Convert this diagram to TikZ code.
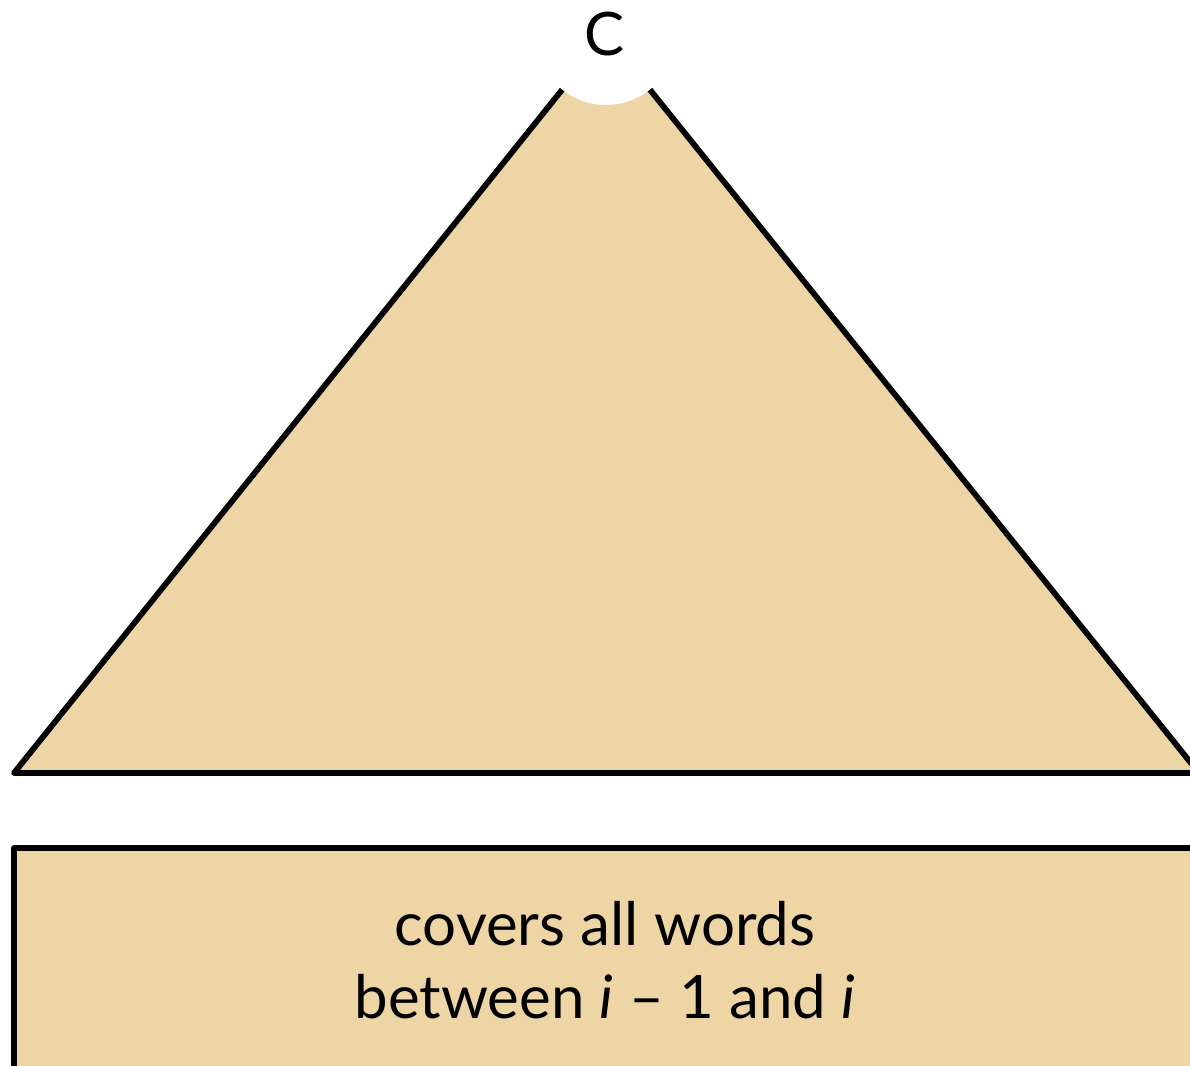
\documentclass[tikz,border=0pt]{standalone}
\usepackage{fontspec}
\setmainfont{Lato}
\definecolor{tan}{HTML}{EDD5A5}
\begin{document}
\begin{tikzpicture}[x=0.5pt,y=-0.5pt,
  shape fill/.style={fill=tan,draw=black,line width=2.9pt,line join=round},
  label txt/.style={font=\fontsize{30}{36.5}\selectfont,align=center}]
\useasboundingbox (0,0) rectangle (1190,1066);
\coordinate (L) at (14,773);
\coordinate (R) at (1199,773);
\coordinate (A) at (606,35);
\draw[shape fill] (L) -- (A) -- (R) -- cycle;
\node[circle,fill=white,minimum size=70pt,inner sep=0pt] (C) at (A) {};
\node[font=\fontsize{30}{34}\selectfont] (Ct) at (605,34) {C};
\draw[shape fill] (14,1100) -- (14,848) -- (1210,848) -- (1210,1100);
\node[label txt] (txt) at (605,960) {covers all words\\between \textit{i} – 1 and \textit{i}};
\end{tikzpicture}
\end{document}
